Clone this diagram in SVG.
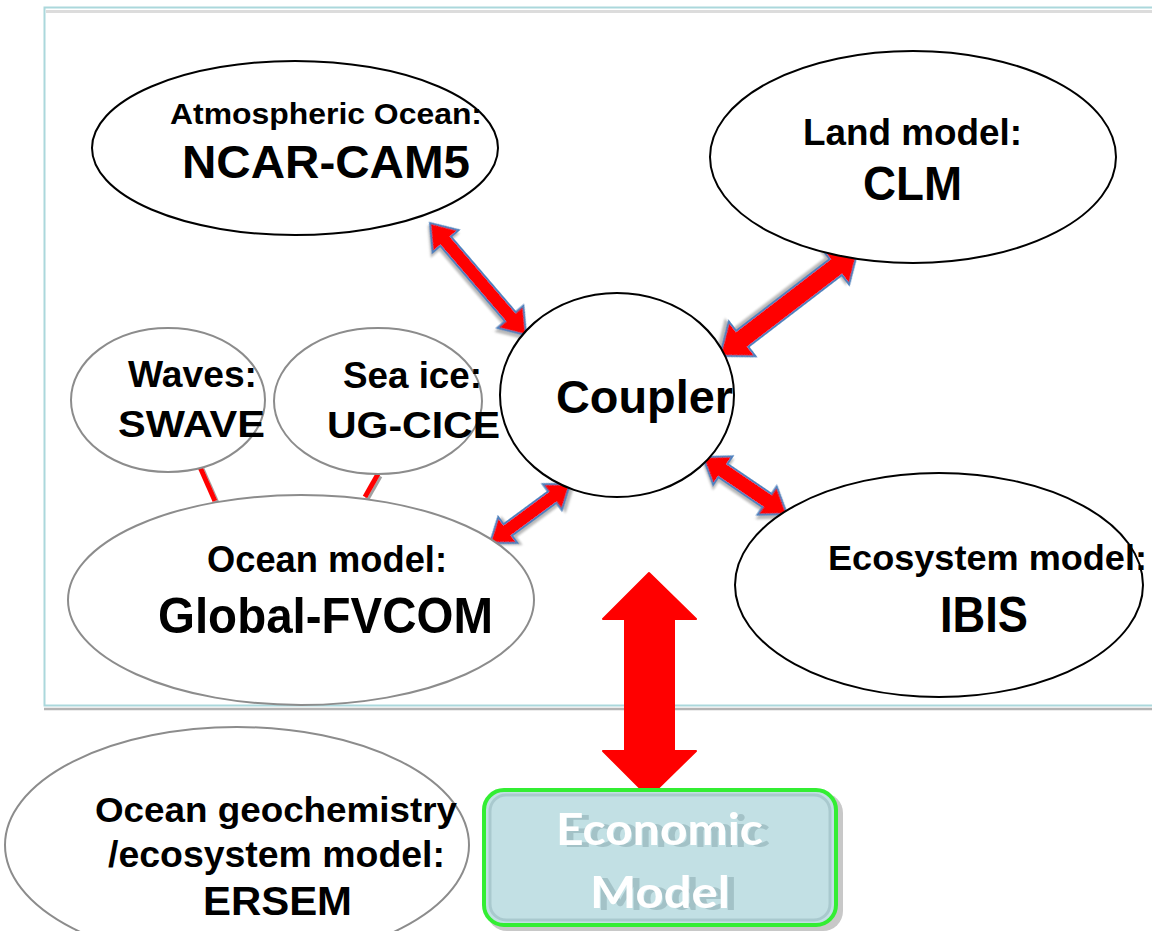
<svg xmlns="http://www.w3.org/2000/svg" width="1152" height="931" viewBox="0 0 1152 931">
<style>
  .t { font-family: "Liberation Sans", Arial, sans-serif; font-weight: bold; fill: #000; }
  .blk { fill: #fff; stroke: #000; stroke-width: 2; }
  .gry { fill: #fff; stroke: #8c8c8c; stroke-width: 2; }
  .arr { fill: #ff0000; stroke: #4f81bd; stroke-width: 2; stroke-linejoin: miter; filter: url(#sh); }
  .lnk { stroke: #ff0000; stroke-width: 5; filter: url(#sh2); }
  .eco { font-family: Lato, "Open Sans", sans-serif; font-weight: bold; font-size: 44px; fill: #ffffff; filter: url(#tsh); }
</style>
<defs>
  <filter id="sh" x="-20%" y="-20%" width="140%" height="140%">
    <feDropShadow dx="2" dy="3" stdDeviation="1" flood-color="#888" flood-opacity="0.6"/>
  </filter>
  <filter id="sh2" x="-50%" y="-50%" width="200%" height="200%">
    <feDropShadow dx="2" dy="2" stdDeviation="0.5" flood-color="#777" flood-opacity="0.7"/>
  </filter>
  <filter id="tsh" x="-10%" y="-20%" width="130%" height="150%">
    <feFlood flood-color="#a3c2c7" result="c"/>
    <feComposite in="c" in2="SourceAlpha" operator="in" result="s"/>
    <feOffset in="s" dx="7" dy="2" result="o"/>
    <feMerge><feMergeNode in="o"/><feMergeNode in="SourceGraphic"/></feMerge>
  </filter>
</defs>
<rect width="1152" height="931" fill="#fff"/>
<g id="frame">
  <line x1="46" y1="11.5" x2="1152" y2="11.5" stroke="#dcdcdc" stroke-width="3"/>
  <line x1="44" y1="709" x2="1152" y2="709" stroke="#b4b4b4" stroke-width="2.5"/>
  <rect x="44.5" y="7.5" width="1120" height="698" fill="none" stroke="#abd8dc" stroke-width="2"/>
</g>
<g id="connectors">
  <line class="lnk" x1="200" y1="467" x2="215" y2="501"/>
  <line class="lnk" x1="378" y1="474" x2="365" y2="497"/>
  <line class="lnk" x1="284" y1="705" x2="284" y2="729"/>
  <polygon class="arr" transform="translate(430,223) rotate(49.4)" points="0,0 24,-17 24,-7 123.5,-7 123.5,-17 147.5,0 123.5,17 123.5,7 24,7 24,17"/>
  <polygon class="arr" transform="translate(858,250) rotate(142.5)" points="0,0 28,-22 28,-10 146,-10 146,-22 174,0 146,22 146,10 28,10 28,22"/>
  <polygon class="arr" transform="translate(490,543) rotate(-36.4)" points="0,0 22,-16 22,-7 77.4,-7 77.4,-16 99.4,0 77.4,16 77.4,7 22,7 22,16"/>
  <polygon class="arr" transform="translate(703,457) rotate(34.2)" points="0,0 24,-17 24,-8 77.5,-8 77.5,-17 101.5,0 77.5,17 77.5,8 24,8 24,17"/>
</g>
<g id="atmos">
  <ellipse class="blk" cx="295" cy="148" rx="203" ry="87" stroke-width="3"/>
  <text class="t" x="170" y="124" font-size="30" textLength="312" lengthAdjust="spacingAndGlyphs">Atmospheric Ocean:</text>
  <text class="t" x="182" y="178" font-size="46" textLength="288" lengthAdjust="spacingAndGlyphs">NCAR-CAM5</text>
</g>
<g id="land">
  <ellipse class="blk" cx="913" cy="157" rx="203" ry="106"/>
  <text class="t" x="803" y="145" font-size="37" textLength="219" lengthAdjust="spacingAndGlyphs">Land model:</text>
  <text class="t" x="863" y="200" font-size="48" textLength="99" lengthAdjust="spacingAndGlyphs">CLM</text>
</g>
<g id="waves">
  <ellipse class="gry" cx="168" cy="400" rx="97" ry="72"/>
  <text class="t" x="128" y="387" font-size="37" textLength="129" lengthAdjust="spacingAndGlyphs">Waves:</text>
  <text class="t" x="118" y="437" font-size="37" textLength="147" lengthAdjust="spacingAndGlyphs">SWAVE</text>
</g>
<g id="seaice">
  <ellipse class="gry" cx="378" cy="401" rx="104" ry="73"/>
  <text class="t" x="343" y="388" font-size="37" textLength="139" lengthAdjust="spacingAndGlyphs">Sea ice:</text>
  <text class="t" x="327" y="438" font-size="37" textLength="173" lengthAdjust="spacingAndGlyphs">UG-CICE</text>
</g>
<g id="coupler">
  <ellipse class="blk" cx="617" cy="395" rx="117" ry="102"/>
  <text class="t" x="556" y="413" font-size="46" textLength="177" lengthAdjust="spacingAndGlyphs">Coupler</text>
</g>
<g id="ocean">
  <ellipse class="gry" cx="301" cy="600" rx="233" ry="105"/>
  <text class="t" x="207" y="572" font-size="37" textLength="240" lengthAdjust="spacingAndGlyphs">Ocean model:</text>
  <text class="t" x="158" y="633" font-size="50" textLength="335" lengthAdjust="spacingAndGlyphs">Global-FVCOM</text>
</g>
<g id="ecosystem">
  <ellipse class="blk" cx="939" cy="585" rx="204" ry="112"/>
  <text class="t" x="828" y="570" font-size="35" textLength="319" lengthAdjust="spacingAndGlyphs">Ecosystem model:</text>
  <text class="t" x="940" y="632" font-size="50" textLength="88" lengthAdjust="spacingAndGlyphs">IBIS</text>
</g>
<g id="geochem">
  <ellipse class="gry" cx="237" cy="845" rx="232" ry="118"/>
  <text class="t" x="95" y="822" font-size="35" textLength="362" lengthAdjust="spacingAndGlyphs">Ocean geochemistry</text>
  <text class="t" x="108" y="867" font-size="37" textLength="337" lengthAdjust="spacingAndGlyphs">/ecosystem model:</text>
  <text class="t" x="203" y="915" font-size="40" textLength="149" lengthAdjust="spacingAndGlyphs">ERSEM</text>
</g>
<g id="bigarrow">
  <polygon fill="#ff0000" stroke="#ff0000" stroke-width="2" stroke-linejoin="round" points="649,573 696,619 674,619 674,751 696,751 649,797 603,751 625,751 625,619 603,619"/>
</g>
<g id="economic">
  <rect x="487" y="793" width="356" height="138" rx="20" fill="#c8c8c8"/>
  <rect x="484" y="790" width="352" height="135" rx="20" fill="#c2e0e4" stroke="#33ee33" stroke-width="4"/>
  <rect x="490" y="795" width="340" height="125" rx="16" fill="none" stroke="#a9c9ce" stroke-width="3"/>
  <text class="eco" x="556" y="845" textLength="207" lengthAdjust="spacingAndGlyphs">Economic</text>
  <text class="eco" x="590" y="908" textLength="140" lengthAdjust="spacingAndGlyphs">Model</text>
</g>
</svg>
